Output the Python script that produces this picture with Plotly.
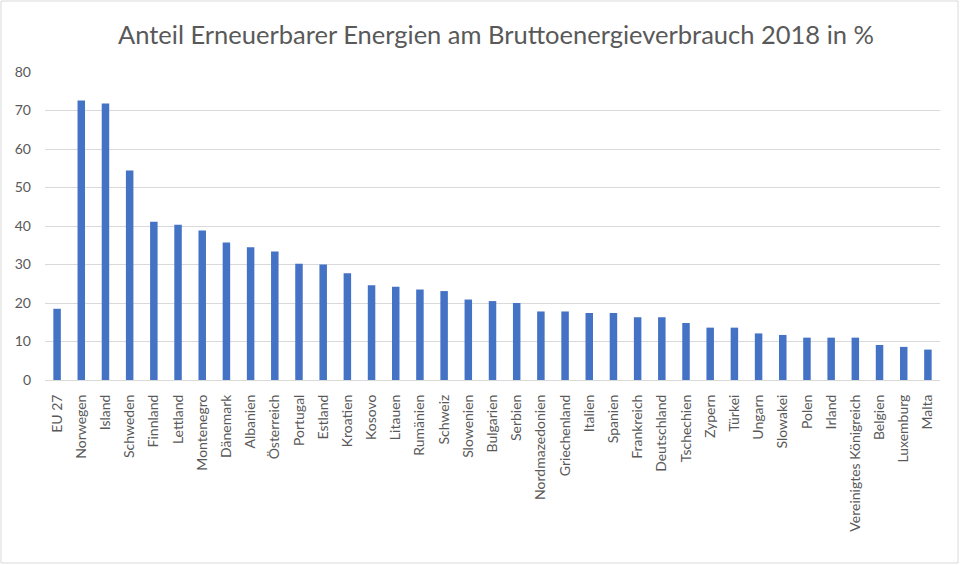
import plotly.graph_objects as go

categories = ["EU 27", "Norwegen", "Island", "Schweden", "Finnland", "Lettland", "Montenegro",
              "Dänemark", "Albanien", "Österreich", "Portugal", "Estland", "Kroatien", "Kosovo",
              "Litauen", "Rumänien", "Schweiz", "Slowenien", "Bulgarien", "Serbien",
              "Nordmazedonien", "Griechenland", "Italien", "Spanien", "Frankreich", "Deutschland",
              "Tschechien", "Zypern", "Türkei", "Ungarn", "Slowakei", "Polen", "Irland",
              "Vereinigtes Königreich", "Belgien", "Luxemburg", "Malta"]
values = [18.5, 72.6, 71.8, 54.4, 41.1, 40.3, 38.8, 35.7, 34.5, 33.4, 30.2, 30.0, 27.7, 24.6,
          24.2, 23.5, 23.1, 20.9, 20.5, 20.0, 17.8, 17.8, 17.4, 17.4, 16.3, 16.3, 14.8, 13.6,
          13.6, 12.1, 11.7, 11.0, 11.0, 11.0, 9.1, 8.6, 7.9]
y_ticks = [0, 10, 20, 30, 40, 50, 60, 70, 80]

W, H = 960, 565
ml, mr, mt, mb = 45, 20, 72, 185
pw, ph = W - ml - mr, H - mt - mb

fig = go.Figure(go.Bar(x=categories, y=values, marker=dict(color="#4472C4", line=dict(width=0))))

fig.update_layout(
    width=W, height=H,
    margin=dict(l=ml, r=mr, t=mt, b=mb),
    paper_bgcolor="white", plot_bgcolor="white",
    bargap=0.69,
    showlegend=False,
    title=dict(text="Anteil Erneuerbarer Energien am Bruttoenergieverbrauch 2018 in %",
               x=496 / W, xanchor="center", y=1 - 35 / H, yanchor="middle",
               font=dict(family="Lato", size=25.5, color="#595959")),
    font=dict(family="Lato", size=14, color="#595959"),
    shapes=[dict(type="rect", xref="paper", yref="paper",
                 x0=(1 - ml) / pw, x1=(958 - ml) / pw,
                 y0=(mt + ph - 563) / ph, y1=(mt + ph - 1) / ph,
                 line=dict(color="#d9d9d9", width=1), fillcolor="rgba(0,0,0,0)", layer="below")],
)
fig.update_xaxes(tickangle=-90, showgrid=False, showline=True, linecolor="#d9d9d9", linewidth=1,
                 ticks="", ticklabelstandoff=8, tickfont=dict(size=14, color="#595959"))
fig.update_yaxes(range=[0, 80], tickvals=y_ticks, showgrid=True, gridcolor="#d9d9d9", gridwidth=1,
                 zeroline=False, showline=False, ticks="", ticklabelstandoff=13,
                 tickfont=dict(size=14, color="#595959"))

fig.write_html("out.html", config={"displayModeBar": False},
               post_script="document.body.style.margin='0px';document.body.style.overflow='hidden';")
